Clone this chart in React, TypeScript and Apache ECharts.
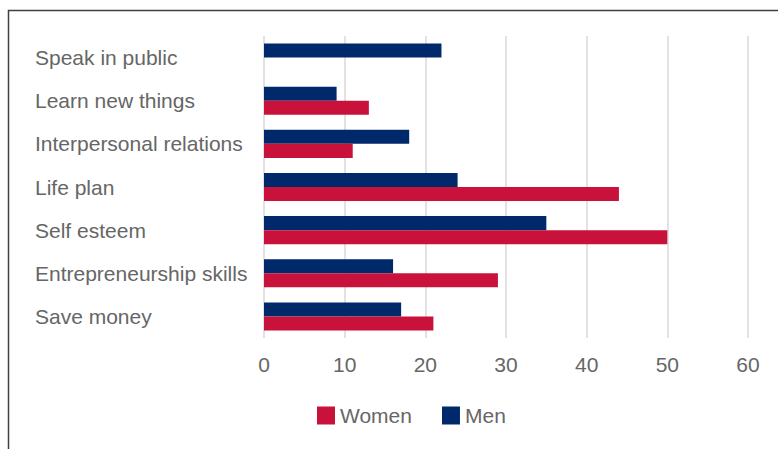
import React, { useEffect, useRef } from "react";
import * as echarts from "echarts";

const categories = [
  "Speak in public",
  "Learn new things",
  "Interpersonal relations",
  "Life plan",
  "Self esteem",
  "Entrepreneurship skills",
  "Save money",
];
const women = [0, 13, 11, 44, 50, 29, 21];
const men = [22, 9, 18, 24, 35, 16, 17];
const xTicks = { min: 0, max: 60, interval: 10 };

const WOMEN_COLOR = "#c8123c";
const MEN_COLOR = "#00296b";
const TEXT_COLOR = "#666666";
const FONT = "Arial, 'Liberation Sans', sans-serif";

export default function App() {
  const ref = useRef<HTMLDivElement>(null);
  useEffect(() => {
    if (!ref.current) return;
    const chart = echarts.init(ref.current, undefined, { renderer: "svg" });
    chart.setOption({
      animation: false,
      backgroundColor: "#ffffff",
      textStyle: { fontFamily: FONT },
      graphic: [
        {
          type: "rect",
          shape: { x: 8.5, y: 10.5, width: 900, height: 600 },
          style: { fill: "none", stroke: "#404040", lineWidth: 1.5 },
          silent: true,
        },
      ],
      grid: { left: 264, right: 30, top: 36, bottom: 111, containLabel: false },
      legend: {
        data: ["Women", "Men"],
        top: 405,
        left: 317,
        padding: 0,
        itemWidth: 18,
        itemHeight: 18,
        itemGap: 30,
        icon: "rect",
        textStyle: { color: TEXT_COLOR, fontSize: 21, fontFamily: FONT },
      },
      xAxis: {
        type: "value",
        min: xTicks.min,
        max: xTicks.max,
        interval: xTicks.interval,
        axisLine: { show: false },
        axisTick: { show: false },
        axisLabel: { color: TEXT_COLOR, fontSize: 21, margin: 16, fontFamily: FONT },
        splitLine: { show: true, lineStyle: { color: "#d9d9d9", width: 1.5 } },
      },
      yAxis: {
        type: "category",
        data: categories,
        inverse: true,
        axisLine: { show: false },
        axisTick: { show: false },
        axisLabel: {
          color: TEXT_COLOR,
          fontSize: 21,
          align: "left",
          margin: 229,
          fontFamily: FONT,
        },
      },
      series: [
        {
          name: "Men",
          type: "bar",
          data: men,
          itemStyle: { color: MEN_COLOR },
          barGap: "0%",
          barCategoryGap: "35%",
        },
        {
          name: "Women",
          type: "bar",
          data: women,
          itemStyle: { color: WOMEN_COLOR },
          barGap: "0%",
          barCategoryGap: "35%",
        },
      ],
    });
    return () => chart.dispose();
  }, []);
  return (
    <div
      ref={ref}
      style={{ position: "fixed", left: 0, top: 0, width: 778, height: 449 }}
    />
  );
}
